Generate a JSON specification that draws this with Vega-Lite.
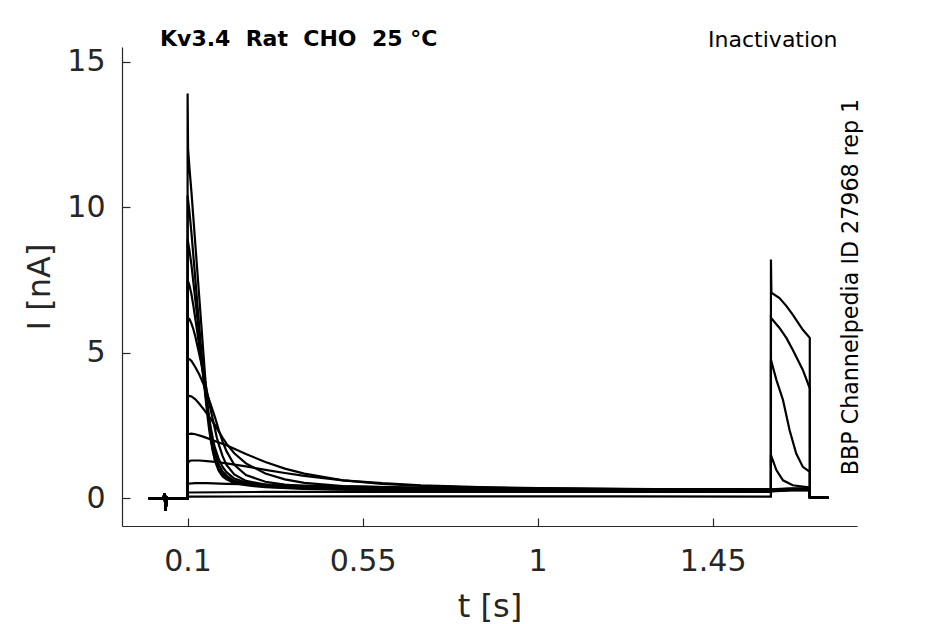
{
  "$schema": "https://vega.github.io/schema/vega-lite/v6.json",
  "width": 735,
  "height": 479,
  "autosize": {"type": "none"},
  "padding": {"left": 122, "top": 47, "right": 88, "bottom": 98},
  "background": "white",
  "title": {
    "text": "Kv3.4\u00a0 Rat\u00a0 CHO\u00a0 25 °C",
    "anchor": "start",
    "frame": "group",
    "font": "DejaVu Sans",
    "fontSize": 22,
    "fontWeight": "bold",
    "color": "black",
    "baseline": "alphabetic",
    "offset": 0,
    "dx": 38,
    "dy": 40
  },
  "data": {
    "values": [
      {"s":1,"t":0,"i":0},{"s":1,"t":0.038,"i":0},{"s":1,"t":0.0405,"i":0.18},{"s":1,"t":0.0435,"i":-0.42},{"s":1,"t":0.0465,"i":0.03},{"s":1,"t":0.05,"i":0},{"s":1,"t":0.0999,"i":0},
      {"s":1,"t":0.1,"i":13.9},{"s":1,"t":0.1012,"i":12.0},{"s":1,"t":0.105,"i":11.3},{"s":1,"t":0.11,"i":10.5},{"s":1,"t":0.115,"i":9.6},{"s":1,"t":0.12,"i":8.7},{"s":1,"t":0.125,"i":7.8},{"s":1,"t":0.13,"i":6.9},{"s":1,"t":0.135,"i":6.0},{"s":1,"t":0.14,"i":5.1},{"s":1,"t":0.145,"i":4.2},{"s":1,"t":0.15,"i":3.4},{"s":1,"t":0.155,"i":2.7},{"s":1,"t":0.16,"i":2.1},{"s":1,"t":0.165,"i":1.65},{"s":1,"t":0.17,"i":1.3},{"s":1,"t":0.18,"i":0.95},{"s":1,"t":0.19,"i":0.75},{"s":1,"t":0.2,"i":0.65},{"s":1,"t":0.22,"i":0.52},{"s":1,"t":0.25,"i":0.45},{"s":1,"t":0.3,"i":0.38},{"s":1,"t":0.4,"i":0.32},{"s":1,"t":0.5,"i":0.3},{"s":1,"t":0.7,"i":0.27},{"s":1,"t":1.0,"i":0.25},{"s":1,"t":1.3,"i":0.24},{"s":1,"t":1.6,"i":0.24},{"s":1,"t":1.65,"i":0.27},{"s":1,"t":1.6999,"i":0.27},{"s":1,"t":1.7,"i":0.04},{"s":1,"t":1.748,"i":0.02},

      {"s":2,"t":0,"i":0},{"s":2,"t":0.038,"i":0},{"s":2,"t":0.0405,"i":0.18},{"s":2,"t":0.0435,"i":-0.42},{"s":2,"t":0.0465,"i":0.03},{"s":2,"t":0.05,"i":0},{"s":2,"t":0.0999,"i":0},
      {"s":2,"t":0.1,"i":10.4},{"s":2,"t":0.105,"i":9.8},{"s":2,"t":0.11,"i":9.1},{"s":2,"t":0.115,"i":8.3},{"s":2,"t":0.12,"i":7.5},{"s":2,"t":0.125,"i":6.7},{"s":2,"t":0.13,"i":5.9},{"s":2,"t":0.135,"i":5.1},{"s":2,"t":0.14,"i":4.3},{"s":2,"t":0.145,"i":3.6},{"s":2,"t":0.15,"i":2.95},{"s":2,"t":0.155,"i":2.4},{"s":2,"t":0.16,"i":1.95},{"s":2,"t":0.165,"i":1.6},{"s":2,"t":0.17,"i":1.35},{"s":2,"t":0.18,"i":1.0},{"s":2,"t":0.19,"i":0.82},{"s":2,"t":0.2,"i":0.7},{"s":2,"t":0.22,"i":0.56},{"s":2,"t":0.25,"i":0.47},{"s":2,"t":0.3,"i":0.4},{"s":2,"t":0.4,"i":0.34},{"s":2,"t":0.5,"i":0.31},{"s":2,"t":0.7,"i":0.28},{"s":2,"t":1.0,"i":0.26},{"s":2,"t":1.3,"i":0.25},{"s":2,"t":1.6,"i":0.25},{"s":2,"t":1.65,"i":0.28},{"s":2,"t":1.6999,"i":0.28},{"s":2,"t":1.7,"i":0.04},{"s":2,"t":1.748,"i":0.02},

      {"s":3,"t":0,"i":0},{"s":3,"t":0.038,"i":0},{"s":3,"t":0.0405,"i":0.18},{"s":3,"t":0.0435,"i":-0.42},{"s":3,"t":0.0465,"i":0.03},{"s":3,"t":0.05,"i":0},{"s":3,"t":0.0999,"i":0},
      {"s":3,"t":0.1,"i":8.9},{"s":3,"t":0.105,"i":8.5},{"s":3,"t":0.11,"i":8.0},{"s":3,"t":0.115,"i":7.4},{"s":3,"t":0.12,"i":6.8},{"s":3,"t":0.125,"i":6.2},{"s":3,"t":0.13,"i":5.55},{"s":3,"t":0.135,"i":4.9},{"s":3,"t":0.14,"i":4.3},{"s":3,"t":0.145,"i":3.7},{"s":3,"t":0.15,"i":3.15},{"s":3,"t":0.155,"i":2.65},{"s":3,"t":0.16,"i":2.2},{"s":3,"t":0.165,"i":1.85},{"s":3,"t":0.17,"i":1.55},{"s":3,"t":0.18,"i":1.15},{"s":3,"t":0.19,"i":0.92},{"s":3,"t":0.2,"i":0.78},{"s":3,"t":0.22,"i":0.6},{"s":3,"t":0.25,"i":0.5},{"s":3,"t":0.3,"i":0.42},{"s":3,"t":0.4,"i":0.35},{"s":3,"t":0.5,"i":0.32},{"s":3,"t":0.7,"i":0.29},{"s":3,"t":1.0,"i":0.27},{"s":3,"t":1.3,"i":0.26},{"s":3,"t":1.6,"i":0.26},{"s":3,"t":1.65,"i":0.29},{"s":3,"t":1.6999,"i":0.29},{"s":3,"t":1.7,"i":0.04},{"s":3,"t":1.748,"i":0.02},

      {"s":4,"t":0,"i":0},{"s":4,"t":0.038,"i":0},{"s":4,"t":0.0405,"i":0.18},{"s":4,"t":0.0435,"i":-0.42},{"s":4,"t":0.0465,"i":0.03},{"s":4,"t":0.05,"i":0},{"s":4,"t":0.0999,"i":0},
      {"s":4,"t":0.1,"i":7.5},{"s":4,"t":0.105,"i":7.3},{"s":4,"t":0.11,"i":7.0},{"s":4,"t":0.115,"i":6.6},{"s":4,"t":0.12,"i":6.15},{"s":4,"t":0.125,"i":5.7},{"s":4,"t":0.13,"i":5.2},{"s":4,"t":0.135,"i":4.7},{"s":4,"t":0.14,"i":4.2},{"s":4,"t":0.145,"i":3.7},{"s":4,"t":0.15,"i":3.25},{"s":4,"t":0.155,"i":2.8},{"s":4,"t":0.16,"i":2.4},{"s":4,"t":0.165,"i":2.05},{"s":4,"t":0.17,"i":1.75},{"s":4,"t":0.18,"i":1.35},{"s":4,"t":0.19,"i":1.08},{"s":4,"t":0.2,"i":0.9},{"s":4,"t":0.22,"i":0.68},{"s":4,"t":0.25,"i":0.54},{"s":4,"t":0.3,"i":0.44},{"s":4,"t":0.4,"i":0.36},{"s":4,"t":0.5,"i":0.33},{"s":4,"t":0.7,"i":0.3},{"s":4,"t":1.0,"i":0.28},{"s":4,"t":1.3,"i":0.27},{"s":4,"t":1.6,"i":0.27},{"s":4,"t":1.65,"i":0.3},{"s":4,"t":1.6999,"i":0.3},{"s":4,"t":1.7,"i":0.04},{"s":4,"t":1.748,"i":0.02},

      {"s":5,"t":0,"i":0},{"s":5,"t":0.038,"i":0},{"s":5,"t":0.0405,"i":0.18},{"s":5,"t":0.0435,"i":-0.42},{"s":5,"t":0.0465,"i":0.03},{"s":5,"t":0.05,"i":0},{"s":5,"t":0.0999,"i":0},
      {"s":5,"t":0.1,"i":6.2},{"s":5,"t":0.105,"i":6.15},{"s":5,"t":0.11,"i":6.0},{"s":5,"t":0.115,"i":5.8},{"s":5,"t":0.12,"i":5.55},{"s":5,"t":0.125,"i":5.25},{"s":5,"t":0.13,"i":4.95},{"s":5,"t":0.135,"i":4.65},{"s":5,"t":0.14,"i":4.35},{"s":5,"t":0.145,"i":4.0},{"s":5,"t":0.15,"i":3.65},{"s":5,"t":0.155,"i":3.3},{"s":5,"t":0.16,"i":3.0},{"s":5,"t":0.165,"i":2.7},{"s":5,"t":0.17,"i":2.4},{"s":5,"t":0.175,"i":2.1},{"s":5,"t":0.18,"i":1.85},{"s":5,"t":0.19,"i":1.45},{"s":5,"t":0.2,"i":1.15},{"s":5,"t":0.22,"i":0.82},{"s":5,"t":0.25,"i":0.6},{"s":5,"t":0.3,"i":0.47},{"s":5,"t":0.4,"i":0.38},{"s":5,"t":0.5,"i":0.34},{"s":5,"t":0.7,"i":0.31},{"s":5,"t":1.0,"i":0.29},{"s":5,"t":1.3,"i":0.28},{"s":5,"t":1.6,"i":0.28},{"s":5,"t":1.65,"i":0.31},{"s":5,"t":1.6999,"i":0.31},{"s":5,"t":1.7,"i":0.04},{"s":5,"t":1.748,"i":0.02},

      {"s":6,"t":0,"i":0},{"s":6,"t":0.038,"i":0},{"s":6,"t":0.0405,"i":0.18},{"s":6,"t":0.0435,"i":-0.42},{"s":6,"t":0.0465,"i":0.03},{"s":6,"t":0.05,"i":0},{"s":6,"t":0.0999,"i":0},
      {"s":6,"t":0.1,"i":4.8},{"s":6,"t":0.105,"i":4.78},{"s":6,"t":0.11,"i":4.72},{"s":6,"t":0.12,"i":4.5},{"s":6,"t":0.13,"i":4.25},{"s":6,"t":0.14,"i":3.95},{"s":6,"t":0.15,"i":3.6},{"s":6,"t":0.16,"i":3.2},{"s":6,"t":0.17,"i":2.8},{"s":6,"t":0.18,"i":2.35},{"s":6,"t":0.19,"i":1.95},{"s":6,"t":0.2,"i":1.62},{"s":6,"t":0.22,"i":1.15},{"s":6,"t":0.25,"i":0.8},{"s":6,"t":0.3,"i":0.57},{"s":6,"t":0.35,"i":0.47},{"s":6,"t":0.4,"i":0.41},{"s":6,"t":0.5,"i":0.36},{"s":6,"t":0.7,"i":0.32},{"s":6,"t":1.0,"i":0.3},{"s":6,"t":1.3,"i":0.29},{"s":6,"t":1.6,"i":0.29},{"s":6,"t":1.65,"i":0.32},{"s":6,"t":1.6999,"i":0.32},{"s":6,"t":1.7,"i":0.04},{"s":6,"t":1.748,"i":0.02},

      {"s":7,"t":0,"i":0},{"s":7,"t":0.038,"i":0},{"s":7,"t":0.0405,"i":0.18},{"s":7,"t":0.0435,"i":-0.42},{"s":7,"t":0.0465,"i":0.03},{"s":7,"t":0.05,"i":0},{"s":7,"t":0.0999,"i":0},
      {"s":7,"t":0.1,"i":3.5},{"s":7,"t":0.105,"i":3.52},{"s":7,"t":0.11,"i":3.5},{"s":7,"t":0.12,"i":3.4},{"s":7,"t":0.13,"i":3.25},{"s":7,"t":0.14,"i":3.08},{"s":7,"t":0.15,"i":2.9},{"s":7,"t":0.16,"i":2.72},{"s":7,"t":0.17,"i":2.52},{"s":7,"t":0.18,"i":2.3},{"s":7,"t":0.19,"i":2.08},{"s":7,"t":0.2,"i":1.88},{"s":7,"t":0.22,"i":1.55},{"s":7,"t":0.25,"i":1.2},{"s":7,"t":0.3,"i":0.85},{"s":7,"t":0.35,"i":0.65},{"s":7,"t":0.4,"i":0.53},{"s":7,"t":0.5,"i":0.42},{"s":7,"t":0.7,"i":0.35},{"s":7,"t":1.0,"i":0.31},{"s":7,"t":1.3,"i":0.3},{"s":7,"t":1.6,"i":0.3},{"s":7,"t":1.65,"i":0.33},{"s":7,"t":1.6999,"i":0.33},{"s":7,"t":1.7,"i":0.04},{"s":7,"t":1.748,"i":0.02},

      {"s":8,"t":0,"i":0},{"s":8,"t":0.038,"i":0},{"s":8,"t":0.0405,"i":0.18},{"s":8,"t":0.0435,"i":-0.42},{"s":8,"t":0.0465,"i":0.03},{"s":8,"t":0.05,"i":0},{"s":8,"t":0.0999,"i":0},
      {"s":8,"t":0.1,"i":2.2},{"s":8,"t":0.11,"i":2.22},{"s":8,"t":0.12,"i":2.2},{"s":8,"t":0.14,"i":2.12},{"s":8,"t":0.16,"i":2.02},{"s":8,"t":0.18,"i":1.92},{"s":8,"t":0.2,"i":1.82},{"s":8,"t":0.22,"i":1.7},{"s":8,"t":0.25,"i":1.52},{"s":8,"t":0.3,"i":1.25},{"s":8,"t":0.35,"i":1.02},{"s":8,"t":0.4,"i":0.85},{"s":8,"t":0.5,"i":0.62},{"s":8,"t":0.6,"i":0.5},{"s":8,"t":0.7,"i":0.43},{"s":8,"t":0.85,"i":0.37},{"s":8,"t":1.0,"i":0.34},{"s":8,"t":1.3,"i":0.31},{"s":8,"t":1.6,"i":0.31},{"s":8,"t":1.65,"i":0.34},{"s":8,"t":1.6999,"i":0.34},{"s":8,"t":1.7,"i":0.04},{"s":8,"t":1.748,"i":0.02},

      {"s":9,"t":0,"i":0},{"s":9,"t":0.038,"i":0},{"s":9,"t":0.0405,"i":0.18},{"s":9,"t":0.0435,"i":-0.42},{"s":9,"t":0.0465,"i":0.03},{"s":9,"t":0.05,"i":0},{"s":9,"t":0.0999,"i":0},
      {"s":9,"t":0.1,"i":1.2},{"s":9,"t":0.105,"i":1.28},{"s":9,"t":0.11,"i":1.3},{"s":9,"t":0.13,"i":1.3},{"s":9,"t":0.15,"i":1.28},{"s":9,"t":0.18,"i":1.24},{"s":9,"t":0.2,"i":1.2},{"s":9,"t":0.25,"i":1.1},{"s":9,"t":0.3,"i":0.98},{"s":9,"t":0.35,"i":0.87},{"s":9,"t":0.4,"i":0.77},{"s":9,"t":0.5,"i":0.62},{"s":9,"t":0.6,"i":0.52},{"s":9,"t":0.7,"i":0.45},{"s":9,"t":0.85,"i":0.39},{"s":9,"t":1.0,"i":0.35},{"s":9,"t":1.3,"i":0.32},{"s":9,"t":1.5999,"i":0.31},
      {"s":9,"t":1.6,"i":1.48},{"s":9,"t":1.614,"i":0.97},{"s":9,"t":1.631,"i":0.62},{"s":9,"t":1.656,"i":0.45},{"s":9,"t":1.6999,"i":0.37},{"s":9,"t":1.7,"i":0.04},{"s":9,"t":1.748,"i":0.02},

      {"s":10,"t":0,"i":0},{"s":10,"t":0.038,"i":0},{"s":10,"t":0.0405,"i":0.18},{"s":10,"t":0.0435,"i":-0.42},{"s":10,"t":0.0465,"i":0.03},{"s":10,"t":0.05,"i":0},{"s":10,"t":0.0999,"i":0},
      {"s":10,"t":0.1,"i":0.5},{"s":10,"t":0.12,"i":0.52},{"s":10,"t":0.15,"i":0.52},{"s":10,"t":0.2,"i":0.5},{"s":10,"t":0.3,"i":0.47},{"s":10,"t":0.4,"i":0.44},{"s":10,"t":0.5,"i":0.41},{"s":10,"t":0.7,"i":0.37},{"s":10,"t":1.0,"i":0.33},{"s":10,"t":1.3,"i":0.31},{"s":10,"t":1.5999,"i":0.3},
      {"s":10,"t":1.6,"i":4.76},{"s":10,"t":1.614,"i":4.07},{"s":10,"t":1.631,"i":3.38},{"s":10,"t":1.648,"i":2.34},{"s":10,"t":1.665,"i":1.54},{"s":10,"t":1.682,"i":1.08},{"s":10,"t":1.6999,"i":0.91},{"s":10,"t":1.7,"i":0.04},{"s":10,"t":1.748,"i":0.02},

      {"s":11,"t":0,"i":0},{"s":11,"t":0.038,"i":0},{"s":11,"t":0.0405,"i":0.18},{"s":11,"t":0.0435,"i":-0.42},{"s":11,"t":0.0465,"i":0.03},{"s":11,"t":0.05,"i":0},{"s":11,"t":0.0999,"i":0},
      {"s":11,"t":0.1,"i":0.2},{"s":11,"t":0.3,"i":0.22},{"s":11,"t":0.6,"i":0.22},{"s":11,"t":1.0,"i":0.22},{"s":11,"t":1.5999,"i":0.22},
      {"s":11,"t":1.6,"i":6.2},{"s":11,"t":1.622,"i":5.85},{"s":11,"t":1.64,"i":5.5},{"s":11,"t":1.656,"i":5.1},{"s":11,"t":1.682,"i":4.41},{"s":11,"t":1.6999,"i":3.78},{"s":11,"t":1.7,"i":0.04},{"s":11,"t":1.748,"i":0.02},

      {"s":12,"t":0,"i":0},{"s":12,"t":0.038,"i":0},{"s":12,"t":0.0405,"i":0.18},{"s":12,"t":0.0435,"i":-0.42},{"s":12,"t":0.0465,"i":0.03},{"s":12,"t":0.05,"i":0},{"s":12,"t":0.0999,"i":0},
      {"s":12,"t":0.1,"i":0.06},{"s":12,"t":0.6,"i":0.07},{"s":12,"t":1.2,"i":0.07},{"s":12,"t":1.5999,"i":0.06},
      {"s":12,"t":1.6,"i":8.2},{"s":12,"t":1.6012,"i":7.06},{"s":12,"t":1.622,"i":6.88},{"s":12,"t":1.64,"i":6.6},{"s":12,"t":1.656,"i":6.31},{"s":12,"t":1.682,"i":5.79},{"s":12,"t":1.6999,"i":5.51},{"s":12,"t":1.7,"i":0.04},{"s":12,"t":1.748,"i":0.02}
    ]
  },
  "layer": [
    {
      "mark": {"type": "line", "color": "black", "strokeWidth": 2.2, "clip": true},
      "encoding": {
        "x": {
          "field": "t", "type": "quantitative",
          "scale": {"domain": [-0.0687, 1.8213], "nice": false, "zero": false},
          "axis": {
            "orient": "bottom", "title": "t [s]", "values": [0.1, 0.55, 1, 1.45], "format": ".3~g",
            "grid": false, "domainColor": "#262626", "domainWidth": 1.2,
            "tickColor": "#262626", "tickSize": -8, "tickWidth": 1.2,
            "labelFont": "DejaVu Sans", "labelFontSize": 30, "labelColor": "#262626", "labelPadding": 28,
            "titleFont": "DejaVu Sans", "titleFontSize": 32, "titleFontWeight": "normal", "titleColor": "#262626",
            "titleBaseline": "alphabetic", "titleY": 90
          }
        },
        "y": {
          "field": "i", "type": "quantitative",
          "scale": {"domain": [-0.95, 15.5], "nice": false, "zero": false},
          "axis": {
            "orient": "left", "title": "I [nA]", "values": [0, 5, 10, 15], "format": ".3~g",
            "grid": false, "domainColor": "#262626", "domainWidth": 1.2,
            "tickColor": "#262626", "tickSize": -8, "tickWidth": 1.2,
            "labelFont": "DejaVu Sans", "labelFontSize": 30, "labelColor": "#262626", "labelPadding": 25,
            "titleFont": "DejaVu Sans", "titleFontSize": 32, "titleFontWeight": "normal", "titleColor": "#262626",
            "titleBaseline": "alphabetic", "titleX": -73
          }
        },
        "detail": {"field": "s", "type": "nominal"}
      }
    },
    {
      "mark": {"type": "line", "opacity": 0},
      "encoding": {
        "x": {
          "field": "t", "type": "quantitative",
          "scale": {"domain": [-0.0687, 1.8213], "nice": false, "zero": false},
          "axis": {
            "orient": "top", "title": "Inactivation", "labels": false, "ticks": false, "domain": false, "grid": false,
            "titleFont": "DejaVu Sans", "titleFontSize": 22, "titleFontWeight": "normal", "titleColor": "black",
            "titleX": 715, "titleY": -1, "titleAlign": "right", "titleBaseline": "alphabetic", "titleAngle": 0
          }
        },
        "y": {
          "field": "i", "type": "quantitative",
          "scale": {"domain": [-0.95, 15.5], "nice": false, "zero": false},
          "axis": {
            "orient": "right", "title": "BBP Channelpedia ID 27968 rep 1", "labels": false, "ticks": false, "domain": false, "grid": false,
            "titleFont": "DejaVu Sans", "titleFontSize": 22.2, "titleFontWeight": "normal", "titleColor": "black",
            "titleX": 0, "titleY": 239.5, "titleAlign": "center", "titleBaseline": "alphabetic", "titleAngle": -90
          }
        },
        "detail": {"field": "s", "type": "nominal"}
      }
    }
  ],
  "resolve": {"axis": {"x": "independent", "y": "independent"}},
  "config": {"view": {"stroke": null}}
}
